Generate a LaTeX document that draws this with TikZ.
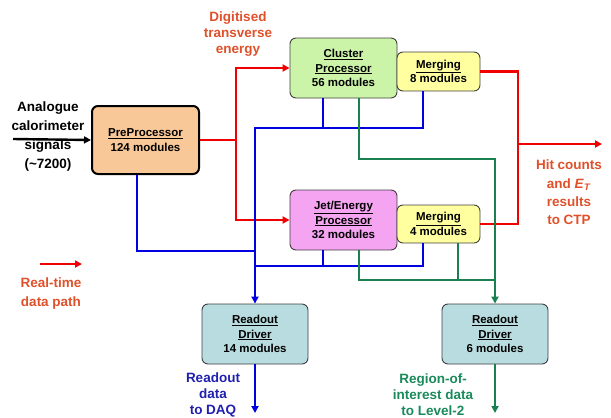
\documentclass[tikz,border=0pt]{standalone}
\usepackage{fontspec}
\setmainfont{Liberation Sans}
\usetikzlibrary{arrows.meta}
\definecolor{ppfill}{HTML}{F8C898}
\definecolor{cpfill}{HTML}{CCF4A8}
\definecolor{mgfill}{HTML}{FFFFA0}
\definecolor{jpfill}{HTML}{F4A4F0}
\definecolor{rdfill}{HTML}{B8DCE0}
\definecolor{lred}{HTML}{F00000}
\definecolor{lblue}{HTML}{0000E0}
\definecolor{lgreen}{HTML}{1A8050}
\definecolor{tred}{HTML}{E0502A}
\definecolor{tblue}{HTML}{2020B0}
\definecolor{tgreen}{HTML}{1A8A5A}
\begin{document}
\begin{tikzpicture}[x=1pt,y=-1pt,
  box/.style={draw=black!75, line width=0.9pt, rounded corners=6pt, align=center,
    font=\fontsize{11.5}{14.5}\selectfont\bfseries, inner sep=0pt},
  lbl/.style={align=center, font=\fontsize{13.5}{16}\selectfont\bfseries, inner sep=0pt},
  tip/.style={-{Triangle[length=7pt,width=7pt]}},
  rl/.style={draw=lred, line width=2.6pt},
  bl/.style={draw=lblue, line width=2.6pt},
  gl/.style={draw=lgreen, line width=2.6pt},
  kl/.style={draw=black, line width=2.4pt}]
\useasboundingbox (0,0) rectangle (611,418);

% boxes
\node[box, fill=ppfill, draw=black, line width=2pt, minimum width=107pt, minimum height=68pt] (pp) at (145.5,140) {\underline{PreProcessor}\\124 modules};
\node[box, fill=cpfill, minimum width=107pt, minimum height=60pt] (cp) at (343.5,68) {\underline{Cluster}\\\underline{Processor}\\56 modules};
\node[box, fill=mgfill, minimum width=83pt, minimum height=39pt] (m8) at (438.5,71.5) {\underline{Merging}\\8 modules};
\node[box, fill=jpfill, minimum width=107pt, minimum height=60pt] (jp) at (343.5,220) {\underline{Jet/Energy}\\\underline{Processor}\\32 modules};
\node[box, fill=mgfill, minimum width=83pt, minimum height=38pt] (m4) at (438.5,224) {\underline{Merging}\\4 modules};
\node[box, fill=rdfill, minimum width=106pt, minimum height=60pt] (rd14) at (255,334) {\underline{Readout}\\\underline{Driver}\\14 modules};
\node[box, fill=rdfill, minimum width=106pt, minimum height=60pt] (rd6) at (495,334) {\underline{Readout}\\\underline{Driver}\\6 modules};

% coordinates
\coordinate (ain) at (13,139);
\coordinate (rj) at (236,140);
\coordinate (rk) at (518,144);
\coordinate (out) at (602,144);
\coordinate (bh1) at (255,128);
\coordinate (bh2) at (255,251);
\coordinate (bh3) at (255,266);
\coordinate (gh1) at (495,159);
\coordinate (gh2) at (495,280);
\coordinate (dq) at (255,413);
\coordinate (l2) at (495,413);
\coordinate (lg1) at (40,264);
\coordinate (lg2) at (82,264);

% input arrow
\draw[kl, tip] (ain) -- (pp.west);

% red real-time paths
\draw[rl] (pp.east) -- (rj);
\draw[rl, tip] (rj) |- (cp.west);
\draw[rl, tip] (rj) |- (jp.west);
\draw[rl, tip] (m8.east) -| (rk) -- (out);
\draw[rl] (m4.east) -| (rk);

% blue readout paths
\draw[bl, tip] ([xshift=-15.5pt]m8.south) |- (bh1) -- (rd14.north);
\draw[bl] ([xshift=-20.5pt]cp.south) -- ++(0,30);
\draw[bl] ([xshift=-8.5pt]pp.south) |- (bh2);
\draw[bl] ([xshift=-15.5pt]m4.south) |- (bh3);
\draw[bl] ([xshift=-20.5pt]jp.south) -- ++(0,16);
\draw[bl, tip] (rd14.south) -- (dq);

% green RoI paths
\draw[gl, tip] ([xshift=15.5pt]cp.south) |- (gh1) -- (rd6.north);
\draw[gl] ([xshift=15.5pt]jp.south) |- (gh2);
\draw[gl] ([xshift=19.5pt]m4.south) -- ++(0,37);
\draw[gl, tip] (rd6.south) -- (l2);

% legend
\draw[rl, tip] (lg1) -- (lg2);

% labels
\node[lbl, font=\fontsize{13.5}{19}\selectfont\bfseries] (tin) at (48,137) {Analogue\\calorimeter\\signals\\(\textasciitilde7200)};
\node[lbl, text=tred] (tdig) at (238,34) {Digitised\\transverse\\energy};
\node[lbl, text=tred, font=\fontsize{13.5}{18.3}\selectfont\bfseries] (thit) at (569,192.5) {Hit counts\\and \textit{E}\textsubscript{\textit{T}}\\results\\to CTP};
\node[lbl, text=tred, font=\fontsize{13.5}{19}\selectfont\bfseries] (tleg) at (51,293.5) {Real-time\\data path};
\node[lbl, text=tblue] (tdaq) at (213,395) {Readout\\data\\to DAQ};
\node[lbl, text=tgreen] (troi) at (433,395) {Region-of-\\interest data\\to Level-2};
\end{tikzpicture}
\end{document}
